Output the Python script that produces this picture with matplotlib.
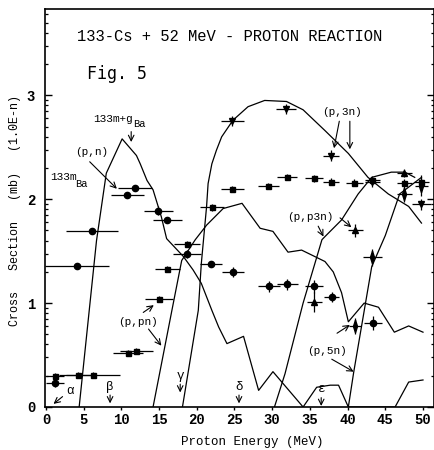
import numpy as np
import matplotlib
matplotlib.use("Agg")
import matplotlib.pyplot as plt
from matplotlib.ticker import FixedLocator

plt.rcParams['font.family'] = ['Liberation Mono', 'DejaVu Sans Mono', 'DejaVu Sans']

# ---- measured cross sections (log10 of mb) ----
circ_x = [1.2, 4.1, 6.1, 10.8, 11.8, 14.9, 16.1, 18.7, 21.9, 24.8, 29.6, 32.0, 35.5, 37.9, 43.4]
circ_y = [0.23, 1.36, 1.69, 2.04, 2.11, 1.89, 1.80, 1.47, 1.375, 1.30, 1.16, 1.18, 1.16, 1.06, 0.81]
circ_xerr = [1.2, 4.2, 3.4, 2.2, 2.2, 1.9, 1.9, 1.8, 1.5, 1.5, 1.5, 1.4, 1.2, 1.0, 1.2]
circ_yerr = [0.04, 0.03, 0.03, 0.03, 0.03, 0.04, 0.03, 0.04, 0.03, 0.05, 0.05, 0.05, 0.06, 0.05, 0.07]

sq_x = [1.2, 4.2, 6.2, 10.9, 12.0, 15.0, 16.1, 18.7, 22.0, 24.7, 29.5, 32.0, 35.5, 37.8, 40.9, 43.3, 47.5, 49.8]
sq_y = [0.30, 0.31, 0.31, 0.52, 0.54, 1.04, 1.33, 1.57, 1.92, 2.10, 2.13, 2.21, 2.20, 2.17, 2.16, 2.18, 2.16, 2.17]
sq_xerr = [1.2, 2.5, 3.6, 2.0, 2.2, 1.9, 1.7, 1.75, 1.6, 1.5, 1.4, 1.3, 1.2, 1.1, 1.1, 1.0, 1.0, 1.0]

tdn_x = [24.7, 31.8, 37.8, 43.3, 49.8]
tdn_y = [2.75, 2.87, 2.42, 2.17, 1.95]
tdn_xerr = [1.5, 1.3, 1.1, 1.0, 1.2]

tup_x = [35.6, 41.0, 47.5]
tup_y = [1.01, 1.70, 2.25]
tup_xerr = [1.0, 1.0, 1.0]
tup_yerr = [0.10, 0.06, 0.04]

dia_x = [41.0, 43.3, 47.5, 49.8]
dia_y = [0.78, 1.44, 2.05, 2.13]
dia_xerr = [0.8, 1.2, 1.0, 0.9]
dia_yerr = [0.08, 0.08, 0.08, 0.10]

# ---- calculated excitation functions ----
pn_x = [4.4, 6.7, 8.0, 10.1, 12.0, 12.5, 13.4, 14.2, 15.3, 16.0, 18.2, 19.5, 20.6, 22.0,
        22.9, 24.0, 26.2, 28.2, 30.1, 34.1, 35.9, 37.7, 38.8, 40.1, 46.3, 48.1, 50.0]
pn_y = [0.0, 1.6, 2.25, 2.58, 2.42, 2.34, 2.18, 2.09, 1.83, 1.62, 1.45, 1.32, 1.19, 0.93,
        0.77, 0.61, 0.68, 0.16, 0.34, 0.0, 0.19, 0.21, 0.21, 0.0, 0.0, 0.24, 0.26]

ppn_x = [14.2, 16.7, 18.0, 19.8, 21.3, 23.5, 26.0, 28.4, 30.1, 32.1, 33.9, 37.0, 38.1,
         39.2, 40.1, 42.2, 44.1, 46.2, 48.1, 50.0]
ppn_y = [0.0, 0.93, 1.41, 1.61, 1.75, 1.91, 1.96, 1.72, 1.69, 1.49, 1.51, 1.40, 1.30,
         1.10, 0.82, 1.0, 0.96, 0.72, 0.78, 0.72]

p3n_x = [18.1, 20.2, 20.6, 21.3, 21.5, 22.0, 22.6, 23.3, 24.8, 26.8, 29.0, 31.9, 34.1,
         37.0, 40.1, 42.7, 45.4, 48.1, 49.8]
p3n_y = [0.0, 0.93, 1.38, 1.93, 2.15, 2.34, 2.47, 2.6, 2.76, 2.89, 2.95, 2.94, 2.86,
         2.66, 2.44, 2.21, 2.05, 1.93, 1.77]

pp3n_x = [30.3, 31.7, 34.1, 36.6, 37.0, 39.2, 41.4, 43.2, 45.8, 47.6, 48.9]
pp3n_y = [0.0, 0.32, 1.0, 1.61, 1.64, 1.80, 2.05, 2.21, 2.26, 2.26, 2.21]

p5n_x = [40.1, 40.8, 43.2, 45.0, 46.9, 49.8]
p5n_y = [0.0, 0.33, 1.35, 1.65, 2.05, 2.21]

x_ticks = [0, 5, 10, 15, 20, 25, 30, 35, 40, 45, 50]
y_ticks = [0, 1, 2, 3]

fig = plt.figure(figsize=(4.35, 4.5), dpi=100)
ax = fig.add_axes([45 / 435, 43 / 450, 389 / 435, 398 / 450])
ax.set_xlim(-0.13, 51.46)
ax.set_ylim(0, 3.83)

lw = 0.9
for cx, cy in [(pn_x, pn_y), (ppn_x, ppn_y), (p3n_x, p3n_y), (pp3n_x, pp3n_y), (p5n_x, p5n_y)]:
    ax.plot(cx, cy, color='black', lw=lw)

eb = dict(color='black', ecolor='black', elinewidth=lw, capsize=0, linestyle='none')
ax.errorbar(circ_x, circ_y, xerr=circ_xerr, yerr=circ_yerr, fmt='o', ms=4.5, **eb)
ax.errorbar(sq_x, sq_y, xerr=sq_xerr, yerr=0.03, fmt='s', ms=3.6, **eb)
ax.errorbar(tdn_x, tdn_y, xerr=tdn_xerr, yerr=0.05, fmt='v', ms=5, **eb)
ax.errorbar(tup_x, tup_y, xerr=tup_xerr, yerr=tup_yerr, fmt='^', ms=5, **eb)
tall_diamond = [(0, 1.7), (0.55, 0), (0, -1.7), (-0.55, 0), (0, 1.7)]
ax.errorbar(dia_x, dia_y, xerr=dia_xerr, yerr=dia_yerr, marker=tall_diamond, ms=9, **eb)

# ticks: y axis holds the decade exponent, minor ticks at log10(2..9)
ax.xaxis.set_major_locator(FixedLocator(x_ticks))
ax.yaxis.set_major_locator(FixedLocator(y_ticks))
minor = [d + np.log10(k) for d in range(4) for k in range(2, 10) if d + np.log10(k) < 3.83]
ax.yaxis.set_minor_locator(FixedLocator(minor))
ax.tick_params(axis='x', which='major', direction='out', length=2.5, width=1, labelsize=10, pad=2)
ax.tick_params(axis='y', which='major', direction='in', length=5, width=1, labelsize=10,
               left=True, right=True, pad=7)
ax.tick_params(axis='y', which='minor', direction='in', length=2.5, width=0.9,
               left=True, right=True)
for lab in ax.get_xticklabels() + ax.get_yticklabels():
    lab.set_fontweight('bold')
for s in ax.spines.values():
    s.set_linewidth(1.2)

# titles and axis labels
ax.text(4.1, 3.57, '133-Cs + 52 MeV - PROTON REACTION', fontsize=11.2, ha='left', va='center')
ax.text(5.4, 3.20, 'Fig. 5', fontsize=12, ha='left', va='center', family='DejaVu Sans Mono')
fig.text(15 / 435, 1 - 211 / 450, 'Cross   Section   (mb)   (1.0E-n)', rotation=90,
         ha='center', va='center', fontsize=8.5)
fig.text(252 / 435, 1 - 442 / 450, 'Proton Energy (MeV)', ha='center', va='center', fontsize=9)

# reaction labels with arrows
fs = 8
arr = dict(arrowstyle='->', color='black', lw=0.8, shrinkA=0, shrinkB=0)
ax.text(6.2, 2.77, '133m+g', fontsize=fs, ha='left', va='center')
ax.text(11.6, 2.72, 'Ba', fontsize=7.5, ha='left', va='center')
ax.annotate('', xy=(11.3, 2.55), xytext=(11.3, 2.65), arrowprops=arr)
ax.text(6.1, 2.45, '(p,n)', fontsize=fs, ha='center', va='center')
ax.annotate('', xy=(9.4, 2.10), xytext=(5.8, 2.36), arrowprops=arr)
ax.text(0.5, 2.21, '133m', fontsize=fs, ha='left', va='center')
ax.text(3.9, 2.15, 'Ba', fontsize=7.5, ha='left', va='center')

ax.text(39.3, 2.84, '(p,3n)', fontsize=fs, ha='center', va='center')
ax.annotate('', xy=(38.2, 2.49), xytext=(38.9, 2.75), arrowprops=arr)
ax.annotate('', xy=(40.3, 2.48), xytext=(40.3, 2.75), arrowprops=arr)

ax.text(12.2, 0.82, '(p,pn)', fontsize=fs, ha='center', va='center')
ax.annotate('', xy=(14.3, 0.98), xytext=(12.9, 0.91), arrowprops=arr)
ax.annotate('', xy=(15.3, 0.59), xytext=(13.6, 0.75), arrowprops=arr)

ax.text(35.0, 1.83, '(p,p3n)', fontsize=fs, ha='center', va='center')
ax.annotate('', xy=(40.5, 1.73), xytext=(39.0, 1.82), arrowprops=arr)
ax.annotate('', xy=(36.8, 1.64), xytext=(36.1, 1.74), arrowprops=arr)

ax.text(37.3, 0.54, '(p,5n)', fontsize=fs, ha='center', va='center')
ax.annotate('', xy=(40.3, 0.79), xytext=(38.6, 0.71), arrowprops=arr)
ax.annotate('', xy=(40.8, 0.34), xytext=(37.9, 0.46), arrowprops=arr)

# threshold markers
gk = dict(fontsize=9, ha='center', va='center')
ax.text(3.2, 0.15, 'α', **gk)
ax.annotate('', xy=(1.0, 0.03), xytext=(2.2, 0.10), arrowprops=arr)
for gx, gy, g in [(8.5, 0.195, 'β'), (17.8, 0.30, 'γ'), (25.6, 0.195, 'δ'), (36.5, 0.17, 'ε')]:
    ax.text(gx, gy, g, **gk)
    ax.annotate('', xy=(gx, gy - 0.16), xytext=(gx, gy - 0.08), arrowprops=arr)

fig.savefig('out.png', dpi=100)
